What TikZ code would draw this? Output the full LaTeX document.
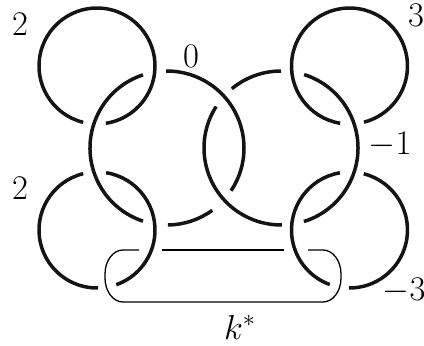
\documentclass[tikz,border=0pt]{standalone}
\tikzset{
  strand/.style={line width=1.75pt,line cap=butt,draw=black!92},
  band/.style={line width=0.65pt,draw=black},
  lab/.style={inner sep=0pt,font=\LARGE,anchor=center}
}
\newcommand{\karc}[4]{\draw[strand] (#1) ++(#3:#2) arc[start angle=#3,end angle=#4,radius=#2];}
\begin{document}
\begin{tikzpicture}[x=0.5pt,y=0.5pt]
\useasboundingbox (0,0) rectangle (424,345);
\coordinate (TL) at (97,279);
\coordinate (TR) at (349.5,279);
\coordinate (BL) at (97,115);
\coordinate (BR) at (349.5,115);
\coordinate (A) at (167,197);
\coordinate (B) at (281,197);
% small circles
\karc{TL}{58}{256.2}{-81.2}
\karc{TR}{58}{260.7}{-75.5}
\karc{BL}{58}{103.8}{271}
\karc{BL}{58}{81}{-70.6}
\karc{BR}{58}{99.5}{250.1}
\karc{BR}{58}{75.7}{-90.5}
% big circles
\karc{A}{77}{108.2}{251.8}
\karc{A}{77}{270.7}{306}
\karc{A}{77}{-33.7}{90.7}
\karc{B}{77}{90}{129.7}
\karc{B}{77}{147.4}{270.7}
\karc{B}{77}{-72.7}{72.5}
% band
\draw[band] (139,95) -- (123,95) arc[start angle=90,end angle=180,x radius=18,y radius=24]
  -- (105,67) arc[start angle=180,end angle=270,x radius=18,y radius=24]
  -- (323,43) arc[start angle=-90,end angle=0,x radius=18,y radius=24]
  -- (341,71) arc[start angle=0,end angle=90,x radius=18,y radius=24]
  -- (308,95);
\draw[band] (162,95) -- (284,95);
% labels
\node[lab] (l2a) at (20,321) {2};
\node[lab] (l0) at (191,289) {0};
\node[lab] (l3) at (416,330) {3};
\node[lab] (lm1) at (390,200) {$-1$};
\node[lab] (l2b) at (20,157) {2};
\node[lab] (lm3) at (404,54.5) {$-3$};
\node[lab] (lk) at (240,18) {$k^*$};
\end{tikzpicture}
\end{document}
